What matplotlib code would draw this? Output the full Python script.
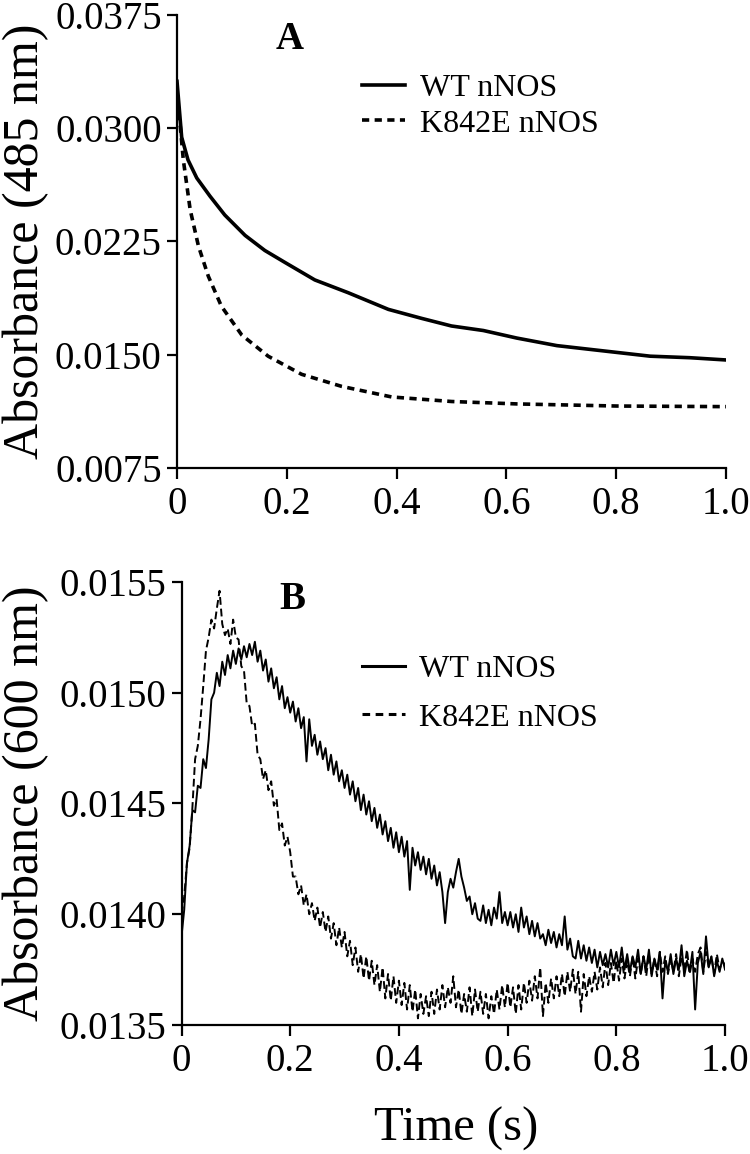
import numpy as np
import matplotlib
matplotlib.use("Agg")
import matplotlib.pyplot as plt

plt.rcParams['font.family'] = ['Liberation Serif', 'DejaVu Serif']

# ---- panel A: absorbance at 485 nm ----
a_t_wt = [0.0, 0.0085, 0.02, 0.036, 0.06, 0.087, 0.124, 0.16, 0.197, 0.251,
          0.312, 0.385, 0.446, 0.5, 0.558, 0.619, 0.692, 0.789, 0.862, 0.934, 1.0]
a_wt = [0.0331, 0.0294, 0.0279, 0.0267, 0.0255, 0.02425, 0.0229, 0.0219, 0.0211, 0.01995,
        0.0191, 0.0180, 0.0174, 0.0169, 0.0166, 0.0161, 0.0156, 0.0152, 0.0149, 0.0148, 0.01465]

a_t_mut = [0.002, 0.006, 0.0115, 0.024, 0.039, 0.057, 0.081, 0.118, 0.166, 0.227,
           0.300, 0.391, 0.5, 0.619, 0.801, 1.0]
a_mut = [0.0310, 0.0301, 0.0279, 0.0246, 0.0222, 0.0202, 0.0182, 0.0163, 0.0149, 0.0137,
         0.0129, 0.0122, 0.0119, 0.01174, 0.0116, 0.01156]

# ---- panel B: absorbance at 600 nm, units of 1e-5, one point every 5 ms ----
b_t = [i * 0.005 for i in range(201)]
b_wt = [1390, 1402, 1423, 1431, 1447, 1446, 1458, 1457, 1470, 1466,
        1479, 1497, 1500, 1509, 1503, 1514, 1508, 1517, 1511, 1519,
        1513, 1520, 1515, 1521, 1516, 1522, 1517, 1523, 1514, 1519,
        1510, 1515, 1505, 1511, 1502, 1507, 1497, 1503, 1493, 1498,
        1491, 1496, 1487, 1493, 1484, 1489, 1469, 1488, 1476, 1481,
        1472, 1478, 1470, 1475, 1465, 1472, 1463, 1469, 1460, 1465,
        1457, 1463, 1454, 1460, 1451, 1457, 1447, 1454, 1445, 1451,
        1442, 1448, 1439, 1445, 1436, 1442, 1433, 1439, 1430, 1437,
        1428, 1435, 1426, 1433, 1411, 1430, 1422, 1428, 1420, 1426,
        1418, 1425, 1416, 1422, 1413, 1419, 1410, 1396, 1410, 1416,
        1412, 1419, 1425, 1417, 1412, 1406, 1408, 1400, 1405, 1398,
        1397, 1404, 1396, 1402, 1395, 1403, 1398, 1410, 1396, 1401,
        1395, 1401, 1394, 1400, 1392, 1403, 1394, 1399, 1391, 1397,
        1390, 1396, 1389, 1391, 1386, 1393, 1387, 1392, 1385, 1391,
        1386, 1399, 1384, 1389, 1381, 1380, 1388, 1380, 1386, 1379,
        1385, 1378, 1384, 1376, 1383, 1377, 1382, 1376, 1384, 1377,
        1383, 1376, 1385, 1375, 1382, 1374, 1381, 1376, 1384, 1373,
        1381, 1375, 1384, 1372, 1380, 1375, 1383, 1362, 1379, 1374,
        1382, 1373, 1380, 1375, 1386, 1372, 1379, 1374, 1383, 1357,
        1378, 1383, 1373, 1390, 1376, 1381, 1372, 1379, 1374, 1380,
        1375]
b_mut = [1400, 1408, 1423, 1430, 1448, 1470, 1476, 1488, 1503, 1519,
         1525, 1533, 1529, 1538, 1546, 1531, 1526, 1529, 1522, 1533,
         1525, 1524, 1512, 1510, 1495, 1494, 1485, 1486, 1472, 1470,
         1461, 1465, 1456, 1460, 1449, 1452, 1438, 1441, 1431, 1435,
         1428, 1417, 1417, 1409, 1413, 1404, 1409, 1400, 1405, 1397,
         1403, 1394, 1401, 1392, 1399, 1389, 1396, 1386, 1394, 1385,
         1392, 1381, 1388, 1377, 1385, 1374, 1382, 1371, 1381, 1370,
         1379, 1368, 1377, 1365, 1376, 1362, 1373, 1361, 1372, 1360,
         1370, 1359, 1369, 1357, 1368, 1356, 1366, 1353, 1364, 1355,
         1363, 1354, 1365, 1355, 1366, 1357, 1368, 1358, 1367, 1360,
         1372, 1358, 1366, 1355, 1364, 1356, 1367, 1354, 1366, 1356,
         1365, 1355, 1364, 1353, 1363, 1355, 1366, 1357, 1368, 1358,
         1369, 1358, 1367, 1355, 1368, 1357, 1369, 1360, 1370, 1361,
         1372, 1362, 1376, 1354, 1369, 1360, 1371, 1362, 1372, 1363,
         1373, 1363, 1374, 1365, 1375, 1364, 1374, 1356, 1373, 1363,
         1372, 1365, 1374, 1366, 1376, 1367, 1378, 1368, 1378, 1369,
         1379, 1370, 1380, 1371, 1379, 1372, 1381, 1371, 1380, 1373,
         1381, 1372, 1382, 1373, 1380, 1372, 1383, 1374, 1381, 1373,
         1380, 1374, 1382, 1372, 1381, 1375, 1384, 1373, 1380, 1374,
         1382, 1385, 1374, 1383, 1376, 1381, 1373, 1382, 1375, 1379,
         1377]

labels = ["WT nNOS", "K842E nNOS"]
x_ticks = [0, 0.2, 0.4, 0.6, 0.8, 1.0]
x_ticklabels = ["0", "0.2", "0.4", "0.6", "0.8", "1.0"]
a_yticks = [0.0075, 0.0150, 0.0225, 0.0300, 0.0375]
b_yticks = [0.0135, 0.0140, 0.0145, 0.0150, 0.0155]


def style_axis(ax, yticks, ylim):
    for s in ['top', 'right']:
        ax.spines[s].set_visible(False)
    for s in ['left', 'bottom']:
        ax.spines[s].set_linewidth(1.6)
    ax.set_xlim(0, 1.0)
    ax.set_ylim(*ylim)
    ax.set_xticks(x_ticks)
    ax.set_xticklabels(x_ticklabels)
    ax.set_yticks(yticks)
    ax.set_yticklabels(["%.4f" % v for v in yticks])
    ax.tick_params(axis='both', labelsize=28, width=1.6, direction='out')
    ax.tick_params(axis='y', length=7, pad=4)
    ax.tick_params(axis='x', length=8, pad=5)


fig = plt.figure(figsize=(7.5, 11.54), dpi=100)

# panel A
axA = fig.add_axes([0.236, 0.5945, 0.732, 0.3926])
axA.plot(a_t_wt, a_wt, color='black', lw=2.6, label=labels[0])
axA.plot(a_t_mut, a_mut, color='black', lw=2.6, dashes=(2, 1.5), label=labels[1])
style_axis(axA, a_yticks, (0.0075, 0.0375))
axA.set_ylabel("Absorbance (485 nm)", fontsize=36)
axA.yaxis.set_label_coords(-0.232, 0.5)
axA.text(0.205, 0.945, "A", transform=axA.transAxes, fontsize=28, fontweight='bold',
         ha='center', va='center')
axA.legend(loc='center left', bbox_to_anchor=(0.337, 0.799), frameon=False, fontsize=23,
           handlelength=1.35, handletextpad=0.45, labelspacing=0.2,
           borderpad=0, borderaxespad=0)

# panel B
axB = fig.add_axes([0.242, 0.1118, 0.7247, 0.3839])
axB.plot(b_t, np.array(b_wt) * 1e-5, color='black', lw=1.4, label=labels[0])
axB.plot(b_t, np.array(b_mut) * 1e-5, color='black', lw=1.4, dashes=(4, 2), label=labels[1])
style_axis(axB, b_yticks, (0.0135, 0.0155))
axB.set_ylabel("Absorbance (600 nm)", fontsize=36)
axB.yaxis.set_label_coords(-0.243, 0.5)
axB.set_xlabel("Time (s)", fontsize=35)
axB.xaxis.set_label_coords(0.505, -0.185)
axB.text(0.203, 0.96, "B", transform=axB.transAxes, fontsize=28, fontweight='bold',
         ha='center', va='center')
legB = axB.legend(loc='center left', bbox_to_anchor=(0.332, 0.748), frameon=False, fontsize=23,
                  handlelength=1.35, handletextpad=0.45, labelspacing=0.6,
                  borderpad=0, borderaxespad=0)
for h in legB.get_lines():
    h.set_linewidth(2.2)
    if h.get_label() == labels[1]:
        h.set_dashes((2.5, 1.8))

fig.savefig("out.png", dpi=100)
